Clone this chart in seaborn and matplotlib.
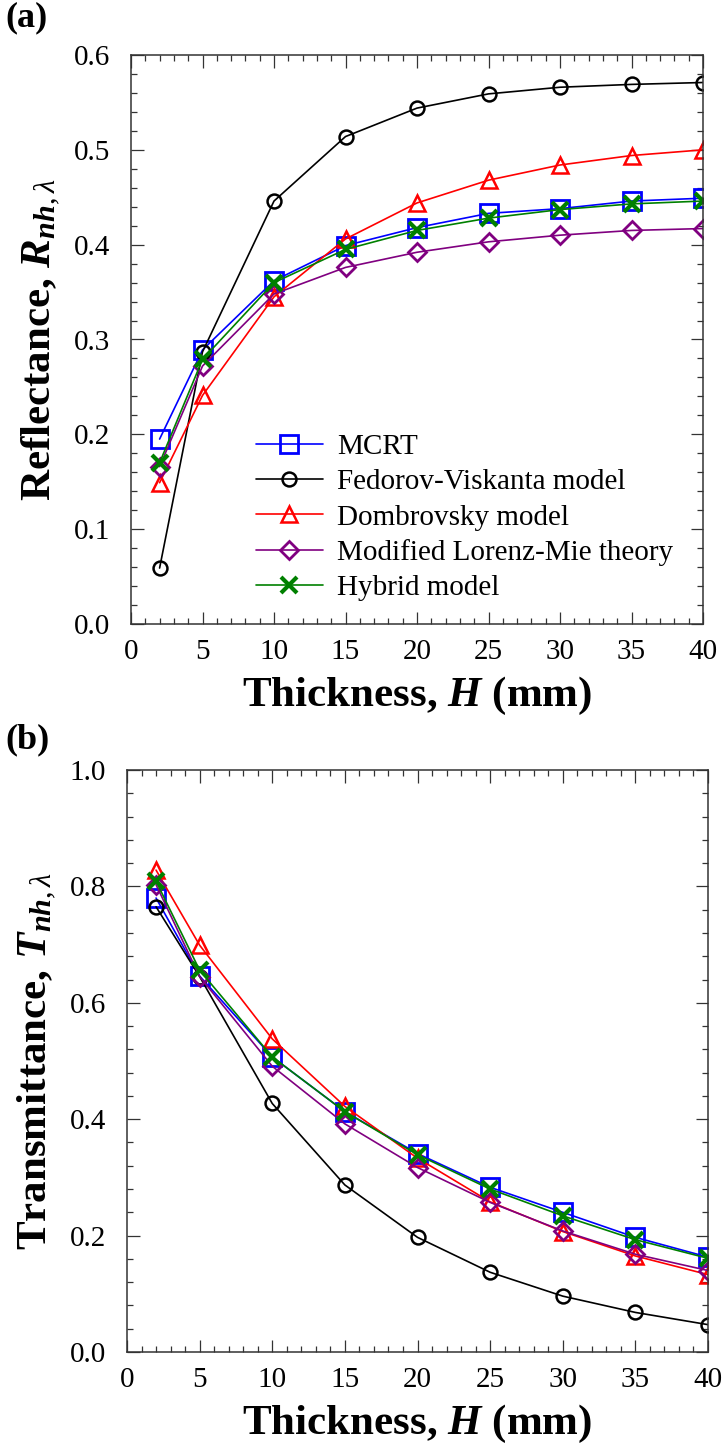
import numpy as np
import pandas as pd
import matplotlib
matplotlib.use("Agg")
import matplotlib.pyplot as plt
from matplotlib.ticker import MultipleLocator, FormatStrFormatter
import seaborn as sns

# ---------------- data ----------------
thickness = [2, 5, 10, 15, 20, 25, 30, 35, 40]

series_names = ["MCRT", "Fedorov-Viskanta model", "Dombrovsky model",
                "Modified Lorenz-Mie theory", "Hybrid model"]

# Reflectance (panel a)
R_mcrt = [0.195, 0.289, 0.362, 0.399, 0.418, 0.433, 0.438, 0.446, 0.449]
R_fv   = [0.059, 0.287, 0.446, 0.514, 0.544, 0.559, 0.566, 0.569, 0.571]
R_dom  = [0.149, 0.241, 0.345, 0.406, 0.444, 0.468, 0.484, 0.494, 0.500]
R_mlm  = [0.166, 0.272, 0.348, 0.376, 0.392, 0.403, 0.410, 0.415, 0.417]
R_hyb  = [0.170, 0.279, 0.360, 0.395, 0.415, 0.428, 0.437, 0.443, 0.446]

# Transmittance (panel b)
T_mcrt = [0.780, 0.646, 0.507, 0.413, 0.341, 0.283, 0.240, 0.197, 0.163]
T_fv   = [0.765, 0.645, 0.427, 0.287, 0.197, 0.137, 0.096, 0.068, 0.047]
T_dom  = [0.828, 0.699, 0.538, 0.422, 0.333, 0.258, 0.207, 0.165, 0.133]
T_mlm  = [0.803, 0.645, 0.491, 0.392, 0.317, 0.257, 0.208, 0.168, 0.140]
T_hyb  = [0.809, 0.656, 0.507, 0.413, 0.339, 0.280, 0.234, 0.193, 0.161]

colors  = ["#0000FF", "#000000", "#FF0000", "#800080", "#008000"]
markers = ["s", "o", "^", "D", "x"]
msizes  = [13, 10, 11, 9, 11]
mews    = [2.0, 1.8, 1.8, 2.0, 3.0]

# ---------------- style ----------------
sns.set_style("ticks")
plt.rcParams["font.family"] = ["Liberation Serif", "DejaVu Serif"]
plt.rcParams["mathtext.fontset"] = "custom"
plt.rcParams["mathtext.rm"] = "Liberation Serif"
plt.rcParams["mathtext.it"] = "Liberation Serif:italic"
plt.rcParams["mathtext.bf"] = "Liberation Serif:bold"
plt.rcParams["mathtext.bfit"] = "Liberation Serif:bold:italic"
plt.rcParams["text.color"] = "black"
plt.rcParams["axes.labelcolor"] = "black"

fig = plt.figure(figsize=(7.24, 14.52), dpi=100)
ax_a = fig.add_axes([131/724, 1 - 624/1452, (703-131)/724, (624-55)/1452])
ax_b = fig.add_axes([127/724, 1 - 1352/1452, (708-127)/724, (1352-770)/1452])

def draw(ax, ys):
    for name, y, c, m, ms, mw in zip(series_names, ys, colors, markers, msizes, mews):
        df = pd.DataFrame({"H": thickness, "v": y})
        sns.lineplot(data=df, x="H", y="v", ax=ax, color=c, marker=m,
                     markersize=ms, mfc="none", mec=c, mew=mw, lw=1.2,
                     label=name, legend=False)
        ax.lines[-1].set_label(name)

draw(ax_a, [R_mcrt, R_fv, R_dom, R_mlm, R_hyb])
draw(ax_b, [T_mcrt, T_fv, T_dom, T_mlm, T_hyb])

def style_axes(ax, ymax, ymaj, ymin):
    ax.set_xlim(0, 40)
    ax.set_ylim(0, ymax)
    ax.xaxis.set_major_locator(MultipleLocator(5))
    ax.xaxis.set_minor_locator(MultipleLocator(1))
    ax.yaxis.set_major_locator(MultipleLocator(ymaj))
    ax.yaxis.set_minor_locator(MultipleLocator(ymin))
    ax.yaxis.set_major_formatter(FormatStrFormatter("%.1f"))
    ax.tick_params(which="both", direction="in", top=True, right=True,
                   width=0.9, color="#333333", labelcolor="black",
                   labelsize=21)
    ax.tick_params(axis="x", which="major", pad=11)
    ax.tick_params(axis="y", which="major", pad=15)
    ax.tick_params(which="major", length=9)
    ax.tick_params(which="minor", length=4.5)
    for s in ax.spines.values():
        s.set_linewidth(1.1)
        s.set_color("#333333")
    ax.set_xlabel(r"Thickness, $\mathbfit{H}$ (mm)", fontsize=31,
                  fontweight="bold", labelpad=7)

style_axes(ax_a, 0.6, 0.1, 0.02)
style_axes(ax_b, 1.0, 0.2, 0.04)

ax_a.set_ylabel(r"Reflectance, $\mathbfit{R}_{\mathbfit{nh},\lambda}$",
                fontsize=31, fontweight="bold", labelpad=8)
ax_b.set_ylabel(r"Transmittance, $\mathbfit{T}_{\mathbfit{nh},\lambda}$",
                fontsize=31, fontweight="bold", labelpad=8)

leg = ax_a.legend(loc="lower left", frameon=False, fontsize=21,
                  handlelength=2.3, labelspacing=0.3, handletextpad=0.5,
                  borderpad=0, bbox_to_anchor=(110/572, 8/569))

fig.text(5/724, 1 - 18/1452, "(a)", fontsize=26, fontweight="bold",
         va="center", ha="left")
fig.text(5/724, 1 - 740/1452, "(b)", fontsize=26, fontweight="bold",
         va="center", ha="left")

fig.savefig("out.png", dpi=100)
